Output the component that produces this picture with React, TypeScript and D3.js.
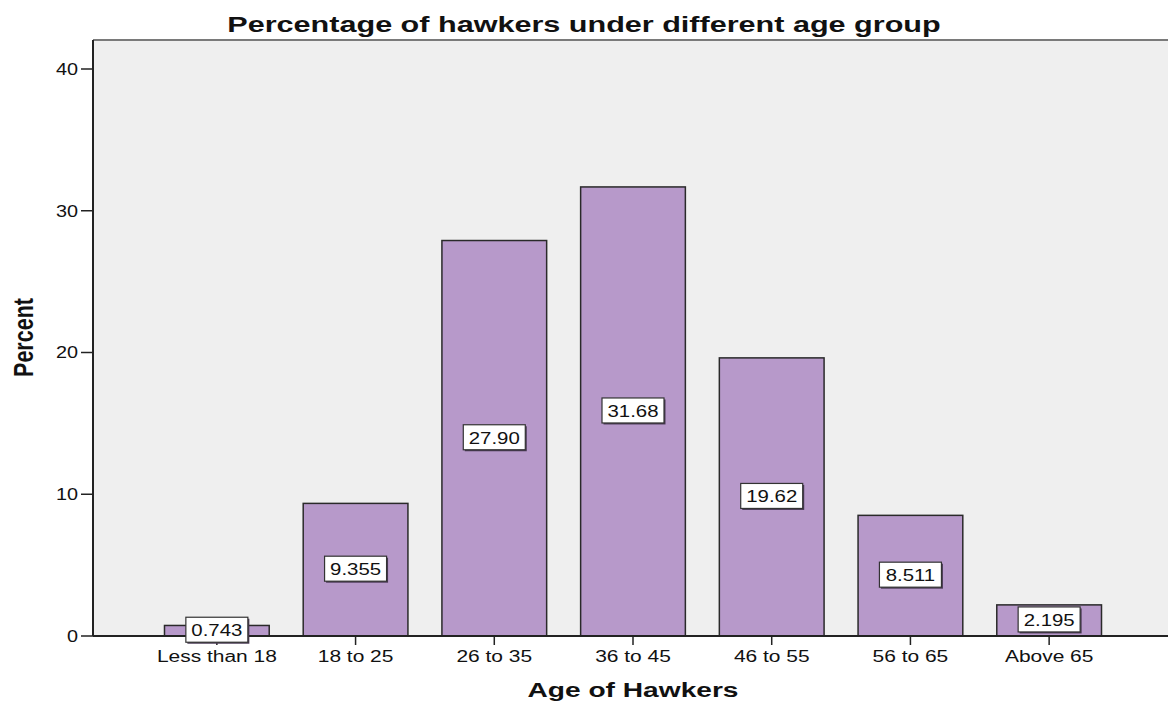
import * as d3 from "d3";
import React from "react";

// Datos
const ageGroups = ["Less than 18", "18 to 25", "26 to 35", "36 to 45", "46 to 55", "56 to 65", "Above 65"];
const percentValues = [0.743, 9.355, 27.9, 31.68, 19.62, 8.511, 2.195];
const valueLabels = ["0.743", "9.355", "27.90", "31.68", "19.62", "8.511", "2.195"];
const yTicks = [0, 10, 20, 30, 40];

const W = 1168;
const H = 702;
const plot = { left: 93, top: 40, right: 1168, bottom: 636 };
const FONT = "'Liberation Sans', Arial, sans-serif";
// la imagen original está estirada en horizontal
const SX = 1.3;

function Txt(props: {
  x: number;
  y: number;
  size: number;
  sx?: number;
  bold?: boolean;
  anchor?: string;
  dy?: string;
  children: React.ReactNode;
}) {
  const { x, y, size, sx = SX, bold, anchor = "middle", dy, children } = props;
  return (
    <text
      transform={`translate(${x},${y}) scale(${sx},1)`}
      textAnchor={anchor}
      dy={dy}
      fontFamily={FONT}
      fontWeight={bold ? "bold" : "normal"}
      fontSize={size}
      fill="#111"
    >
      {children}
    </text>
  );
}

export default function App() {
  const x = d3
    .scaleBand<string>()
    .domain(ageGroups)
    .range([147.5, 1118.5])
    .paddingInner(0.245)
    .paddingOuter(0.1225);

  const y = d3.scaleLinear().domain([0, 40]).range([plot.bottom, 69]);

  const boxW = 62;
  const boxH = 25;

  return (
    <svg
      width={W}
      height={H}
      style={{ position: "absolute", left: 0, top: 0, background: "#ffffff" }}
    >
      {/* Fondo del área de trazado */}
      <rect
        x={plot.left}
        y={plot.top}
        width={plot.right - plot.left}
        height={plot.bottom - plot.top}
        fill="#efefef"
      />
      <line x1={plot.left} x2={plot.right} y1={plot.top} y2={plot.top} stroke="#7a7a7a" strokeWidth={2} />

      {/* Barras */}
      {ageGroups.map((g, i) => (
        <rect
          key={g}
          x={x(g)}
          y={y(percentValues[i])}
          width={x.bandwidth()}
          height={plot.bottom - y(percentValues[i])}
          fill="#b799ca"
          stroke="#2a2a2a"
          strokeWidth={1.5}
        />
      ))}

      {/* Ejes */}
      <line x1={plot.left} x2={plot.left} y1={plot.top} y2={plot.bottom} stroke="#222" strokeWidth={2} />
      <line x1={plot.left} x2={plot.right} y1={plot.bottom} y2={plot.bottom} stroke="#222" strokeWidth={2} />

      {yTicks.map((t) => (
        <g key={t}>
          <line x1={plot.left - 12} x2={plot.left} y1={y(t)} y2={y(t)} stroke="#222" strokeWidth={1.5} />
          <Txt x={plot.left - 15} y={y(t)} dy="0.36em" anchor="end" size={16} sx={1.24}>
            {t}
          </Txt>
        </g>
      ))}

      {ageGroups.map((g) => {
        const cx = (x(g) ?? 0) + x.bandwidth() / 2;
        return (
          <g key={g}>
            <line x1={cx} x2={cx} y1={plot.bottom} y2={plot.bottom + 9} stroke="#222" strokeWidth={1.5} />
            <Txt x={cx} y={plot.bottom + 26} size={16} sx={1.31}>
              {g}
            </Txt>
          </g>
        );
      })}

      {/* Etiquetas de valor */}
      {ageGroups.map((g, i) => {
        const cx = (x(g) ?? 0) + x.bandwidth() / 2;
        const cy = (y(percentValues[i]) + plot.bottom) / 2 - 1;
        return (
          <g key={"lbl" + g}>
            <rect x={cx - boxW / 2 + 1.5} y={cy - boxH / 2 + 1.5} width={boxW} height={boxH} fill="#4a3a55" />
            <rect
              x={cx - boxW / 2}
              y={cy - boxH / 2}
              width={boxW}
              height={boxH}
              fill="#ffffff"
              stroke="#333"
              strokeWidth={1.2}
            />
            <Txt x={cx} y={cy} dy="0.37em" size={17} sx={1.2}>
              {valueLabels[i]}
            </Txt>
          </g>
        );
      })}

      {/* Títulos */}
      <Txt x={584} y={32} size={22} sx={1.39} bold>
        Percentage of hawkers under different age group
      </Txt>
      <Txt x={633} y={697} size={21} sx={1.34} bold>
        Age of Hawkers
      </Txt>
      <text
        transform="translate(33,337.5) scale(1.3,1) rotate(-90)"
        textAnchor="middle"
        fontFamily={FONT}
        fontWeight="bold"
        fontSize={21.5}
        fill="#111"
      >
        Percent
      </text>
    </svg>
  );
}
